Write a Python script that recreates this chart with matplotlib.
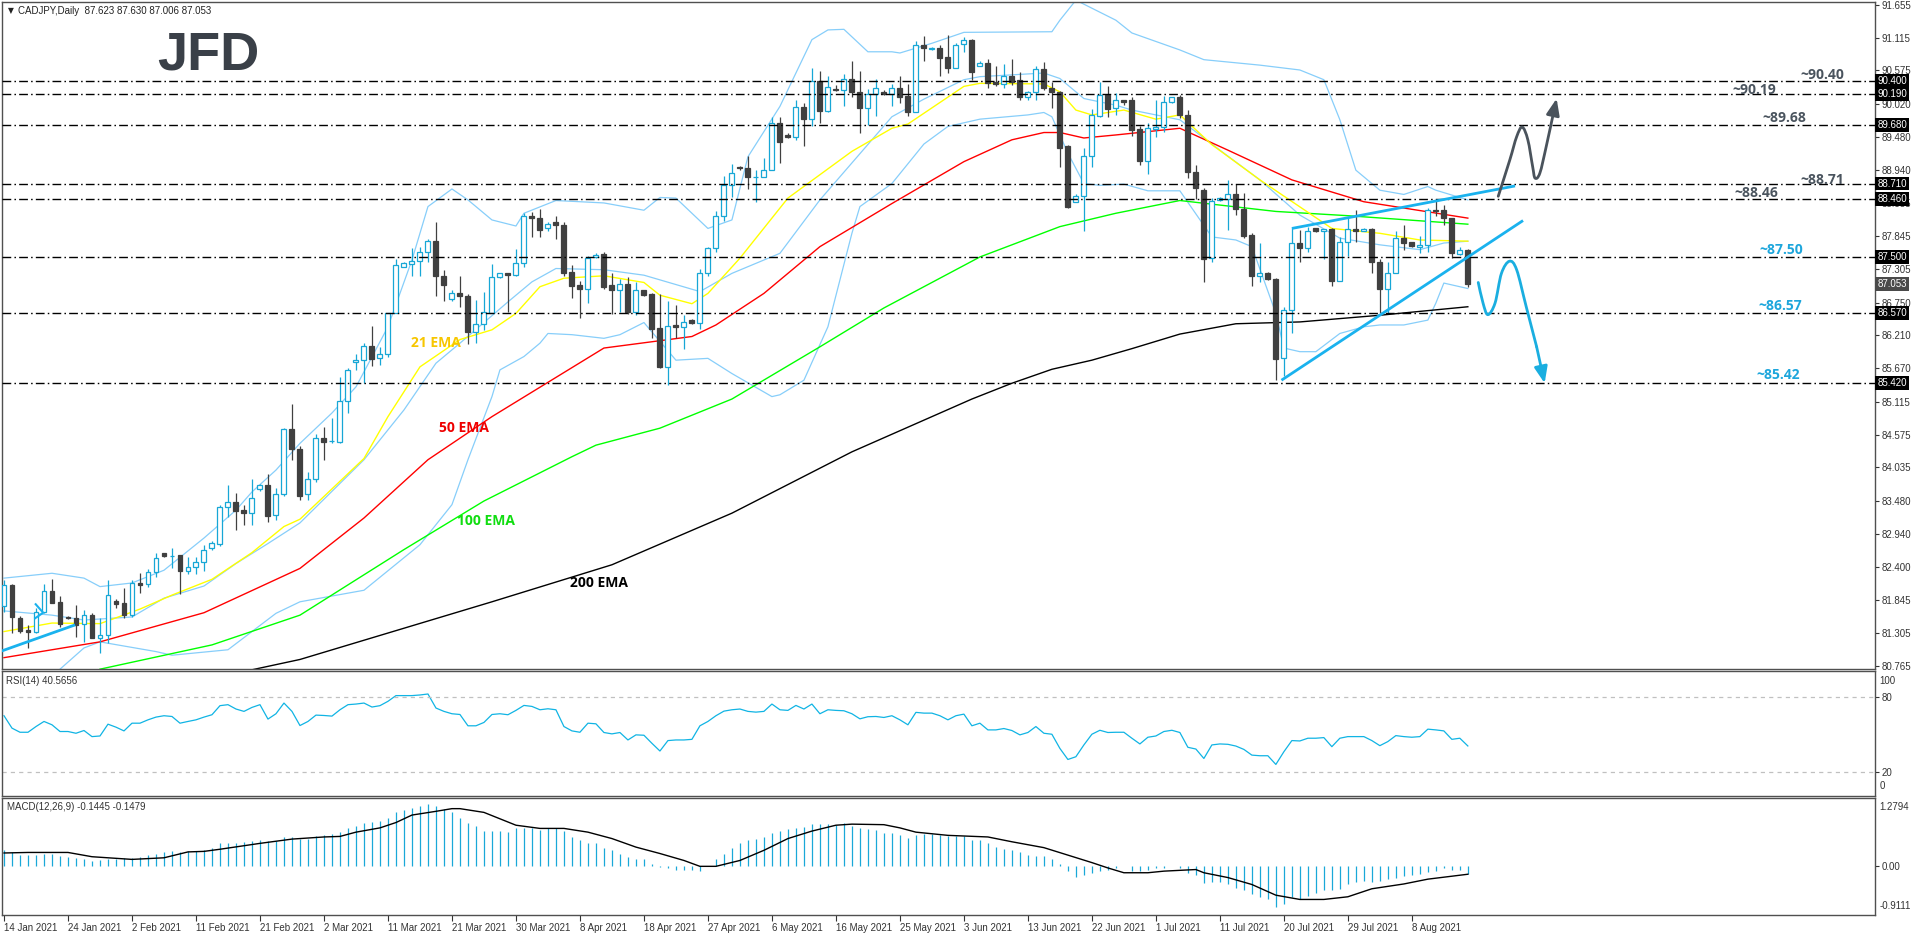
import matplotlib
matplotlib.use("Agg")
import matplotlib.pyplot as plt
import matplotlib.transforms as mtrans
from matplotlib.path import Path
from matplotlib.patches import PathPatch, FancyArrowPatch
import numpy as np

plt.rcParams['lines.scale_dashes'] = False
plt.rcParams['font.family'] = ['Liberation Sans', 'DejaVu Sans']

# ---------------- data ----------------
open_ = np.array([
    81.75, 82.10, 81.55, 81.36, 81.33, 81.66, 82.00, 81.81, 81.57, 81.55,
    81.45, 81.61, 81.23, 81.28, 81.84, 81.80, 81.60, 82.13, 82.11, 82.31,
    82.62, 82.58, 82.59, 82.33, 82.39, 82.47, 82.70, 82.78, 83.38, 83.46,
    83.34, 83.29, 83.67, 83.74, 83.25, 83.59, 84.67, 84.33, 83.60, 83.85,
    84.51, 84.47, 84.46, 85.12, 85.77, 85.80, 86.03, 85.83, 85.90, 86.58,
    87.33, 87.39, 87.43, 87.58, 87.76, 87.19, 86.81, 86.90, 86.86, 86.27,
    86.39, 86.58, 87.17, 87.24, 87.21, 87.40, 88.18, 88.14, 87.97, 88.07,
    88.03, 87.25, 87.04, 86.98, 87.50, 87.55, 87.04, 86.95, 87.05, 86.60,
    86.95, 86.89, 86.33, 85.69, 86.38, 86.34, 86.46, 86.41, 87.23, 87.64,
    88.18, 88.69, 88.98, 88.96, 88.81, 88.82, 88.94, 89.70, 89.51, 89.48,
    89.97, 89.78, 90.40, 89.91, 90.26, 90.25, 90.43, 90.21, 89.95, 90.18,
    90.21, 90.19, 90.28, 90.15, 89.89, 90.99, 90.92, 90.94, 90.79, 90.62,
    91.01, 91.08, 90.65, 90.70, 90.38, 90.35, 90.48, 90.42, 90.14, 90.21,
    90.59, 90.28, 90.22, 89.32, 88.41, 88.51, 89.17, 89.83, 90.17, 89.95,
    90.09, 90.08, 89.61, 89.08, 89.61, 89.64, 90.05, 90.13, 89.84, 88.90,
    88.60, 87.48, 88.44, 88.46, 88.54, 88.29, 87.86, 87.18, 87.24, 87.14,
    85.83, 86.62, 87.73, 87.64, 87.97, 87.93, 87.96, 87.11, 87.74, 87.96,
    87.93, 87.96, 87.42, 86.97, 87.24, 87.82, 87.74, 87.67, 87.70, 88.27,
    88.27, 88.14, 87.55, 87.623])
high = np.array([
    82.18, 82.11, 81.59, 81.44, 81.72, 82.11, 82.20, 81.92, 81.59, 81.76,
    81.69, 81.63, 81.55, 82.18, 81.86, 82.05, 82.18, 82.29, 82.36, 82.62,
    82.63, 82.70, 82.59, 82.55, 82.55, 82.76, 82.82, 83.42, 83.74, 83.61,
    83.42, 83.84, 83.76, 83.92, 83.69, 84.68, 85.08, 84.39, 83.95, 84.58,
    84.70, 84.84, 85.52, 85.67, 85.90, 86.09, 86.36, 86.02, 86.58, 87.47,
    87.42, 87.64, 87.67, 87.79, 88.07, 87.29, 86.96, 87.19, 86.89, 86.79,
    86.92, 87.39, 87.24, 87.24, 87.63, 88.23, 88.24, 88.29, 88.07, 88.18,
    88.08, 87.37, 87.11, 87.51, 87.56, 87.58, 87.23, 87.13, 87.17, 87.09,
    86.96, 86.90, 86.89, 86.77, 86.71, 86.55, 86.48, 87.31, 87.67, 88.26,
    88.83, 89.03, 89.00, 89.16, 88.93, 89.13, 89.80, 89.80, 89.54, 90.09,
    90.03, 90.61, 90.57, 90.48, 90.33, 90.52, 90.72, 90.57, 90.26, 90.43,
    90.25, 90.35, 90.48, 90.35, 91.05, 91.14, 90.96, 90.99, 91.16, 91.03,
    91.12, 91.09, 90.72, 90.76, 90.65, 90.68, 90.76, 90.55, 90.24, 90.65,
    90.71, 90.39, 90.24, 89.35, 88.54, 89.29, 89.93, 90.39, 90.31, 90.20,
    90.09, 90.14, 89.65, 89.70, 90.09, 90.15, 90.14, 90.17, 89.92, 89.02,
    88.64, 88.47, 88.49, 88.77, 88.71, 88.55, 87.89, 87.73, 87.25, 87.16,
    86.67, 87.97, 87.94, 88.00, 87.98, 87.96, 87.97, 87.83, 88.15, 88.28,
    87.97, 87.97, 87.46, 87.41, 87.92, 88.03, 87.75, 87.85, 88.30, 88.43,
    88.36, 88.15, 87.67, 87.63])
low = np.array([
    81.65, 81.30, 81.31, 81.06, 81.31, 81.63, 81.80, 81.41, 81.54, 81.24,
    81.15, 81.22, 80.97, 81.14, 81.71, 81.55, 81.57, 81.97, 82.07, 82.23,
    82.55, 82.38, 81.95, 82.27, 82.27, 82.32, 82.67, 82.74, 83.21, 83.01,
    83.09, 83.09, 83.64, 83.14, 83.17, 83.57, 84.16, 83.50, 83.50, 83.80,
    84.16, 84.43, 84.43, 84.93, 85.64, 85.43, 85.71, 85.72, 85.86, 86.57,
    87.33, 87.19, 87.19, 87.41, 86.86, 86.78, 86.78, 86.68, 86.06, 86.08,
    86.30, 86.57, 87.15, 86.60, 87.18, 87.34, 87.83, 87.83, 87.93, 87.79,
    87.18, 86.83, 86.49, 86.74, 87.48, 86.97, 86.56, 86.60, 86.56, 86.54,
    86.86, 86.16, 85.67, 85.39, 86.16, 85.98, 86.40, 86.31, 87.18, 87.59,
    88.10, 88.49, 88.93, 88.62, 88.40, 88.81, 88.93, 89.04, 89.46, 89.43,
    89.33, 89.66, 89.70, 89.88, 90.24, 89.98, 90.13, 89.55, 89.68, 89.83,
    90.16, 89.98, 90.04, 89.82, 89.88, 90.72, 90.91, 90.48, 90.53, 90.61,
    90.87, 90.42, 90.64, 90.29, 90.31, 90.29, 90.33, 90.09, 90.09, 90.08,
    90.25, 89.95, 88.99, 88.31, 88.41, 87.93, 88.99, 89.81, 89.80, 89.84,
    90.00, 89.50, 89.02, 88.87, 89.47, 89.56, 90.04, 89.79, 88.80, 88.46,
    87.08, 87.42, 88.43, 87.94, 88.19, 87.81, 87.02, 87.09, 87.12, 85.47,
    85.54, 86.24, 87.41, 87.59, 87.91, 87.47, 87.02, 87.11, 87.52, 87.75,
    87.92, 87.24, 86.57, 86.58, 87.23, 87.62, 87.66, 87.57, 87.59, 88.18,
    88.03, 87.48, 87.53, 87.006])
close_ = np.array([
    82.09, 81.57, 81.34, 81.32, 81.66, 81.99, 81.80, 81.45, 81.55, 81.44,
    81.61, 81.23, 81.28, 81.94, 81.78, 81.60, 82.13, 82.10, 82.31, 82.54,
    82.58, 82.58, 82.33, 82.39, 82.47, 82.67, 82.79, 83.38, 83.46, 83.32,
    83.29, 83.53, 83.74, 83.24, 83.59, 84.67, 84.33, 83.57, 83.85, 84.51,
    84.46, 84.47, 85.13, 85.64, 85.80, 86.03, 85.82, 85.90, 86.57, 87.36,
    87.40, 87.43, 87.58, 87.76, 87.18, 87.04, 86.90, 86.85, 86.27, 86.39,
    86.59, 87.17, 87.23, 87.21, 87.40, 88.18, 88.14, 87.94, 88.05, 88.02,
    87.23, 87.03, 86.97, 87.49, 87.54, 87.01, 86.95, 87.05, 86.60, 86.95,
    86.87, 86.31, 85.69, 86.37, 86.34, 86.43, 86.41, 87.23, 87.64, 88.18,
    88.69, 88.88, 88.96, 88.81, 88.82, 88.94, 89.70, 89.40, 89.48, 89.97,
    89.78, 90.40, 89.91, 90.30, 90.25, 90.43, 90.21, 89.95, 90.18, 90.28,
    90.18, 90.28, 90.14, 89.89, 90.99, 90.94, 90.95, 90.78, 90.62, 90.99,
    91.08, 90.54, 90.69, 90.36, 90.35, 90.48, 90.39, 90.13, 90.21, 90.59,
    90.28, 90.21, 89.30, 88.33, 88.51, 89.16, 89.84, 90.17, 89.94, 90.08,
    90.06, 89.59, 89.08, 89.62, 89.64, 90.05, 90.13, 89.84, 88.90, 88.64,
    87.47, 88.43, 88.47, 88.54, 88.29, 87.85, 87.18, 87.23, 87.13, 85.82,
    86.62, 87.73, 87.65, 87.93, 87.92, 87.96, 87.11, 87.74, 87.96, 87.93,
    87.96, 87.41, 86.97, 87.24, 87.82, 87.73, 87.68, 87.70, 88.27, 88.26,
    88.14, 87.56, 87.62, 87.053])

ema21_i = [0, 6, 12, 17, 21, 26, 31, 35, 37, 45, 48, 52, 57, 61, 64, 67, 70, 75, 80, 82,
           86, 88, 92, 98, 106, 111, 113, 120, 122, 130, 132, 134, 136, 140, 144, 147, 151, 157, 166, 172,
           177, 183]
ema21_v = [81.33, 81.47, 81.46, 81.70, 81.93, 82.19, 82.63, 83.06, 83.18, 84.18, 84.87, 85.69, 86.14, 86.30, 86.57, 87.01, 87.15, 87.19, 87.08, 86.87,
           86.73, 86.90, 87.48, 88.47, 89.24, 89.62, 89.69, 90.31, 90.36, 90.35, 90.22, 89.92, 89.84, 89.92, 89.77, 89.84, 89.35, 88.77, 87.97, 87.89,
           87.78, 87.76]
ema50_i = [0, 12, 25, 37, 45, 53, 61, 75, 86, 89, 95, 102, 111, 120, 126, 130, 132, 135, 139, 147, 153, 161, 170, 183]
ema50_v = [80.90, 81.16, 81.64, 82.37, 83.20, 84.16, 84.87, 86.00, 86.19, 86.38, 86.90, 87.67, 88.38, 89.07, 89.43, 89.55, 89.55, 89.46, 89.51, 89.62, 89.26, 88.77, 88.41, 88.14]
ema100_i = [12, 26, 37, 50, 60, 71, 74, 82, 91, 102, 110, 122, 132, 139, 147, 159, 168, 183]
ema100_v = [80.71, 81.11, 81.60, 82.68, 83.48, 84.21, 84.40, 84.68, 85.16, 86.02, 86.66, 87.50, 88.00, 88.22, 88.43, 88.25, 88.18, 88.04]
ema200_i = [31, 37, 61, 76, 91, 106, 121, 126, 131, 136, 141, 147, 154, 162, 172, 183]
ema200_v = [80.70, 80.87, 81.82, 82.43, 83.28, 84.29, 85.16, 85.42, 85.65, 85.80, 85.99, 86.23, 86.40, 86.43, 86.54, 86.68]

bb_up_i = [0, 6, 10, 12, 16, 20, 25, 29, 31, 34, 37, 41, 44, 48, 51, 53, 56, 58, 61, 64,
           65, 69, 75, 80, 82, 84, 88, 91, 93, 97, 101, 103, 105, 108, 111, 112, 116, 120, 131, 132,
           134, 139, 141, 147, 150, 157, 162, 165, 167, 169, 172, 175, 178, 179, 183]
bb_up_v = [82.21, 82.29, 82.21, 82.07, 82.13, 82.34, 82.87, 83.33, 83.63, 83.99, 84.43, 84.93, 85.36, 86.35, 87.45, 88.33, 88.62, 88.44, 88.11, 88.01,
           88.22, 88.43, 88.39, 88.27, 88.48, 88.47, 87.97, 88.11, 89.15, 89.98, 91.08, 91.24, 91.25, 90.88, 90.88, 90.86, 91.02, 91.20, 91.21, 91.40,
           91.73, 91.40, 91.19, 90.91, 90.75, 90.66, 90.58, 90.42, 89.76, 88.93, 88.60, 88.53, 88.66, 88.60, 88.44]
bb_mid_i = [0, 6, 10, 16, 20, 25, 29, 33, 37, 45, 50, 54, 57, 63, 66, 69, 75, 80, 87, 91,
            97, 102, 111, 115, 120, 122, 130, 132, 135, 139, 141, 147, 152, 157, 162, 167, 172, 177, 180, 183]
bb_mid_v = [81.67, 81.60, 81.52, 81.57, 81.88, 82.08, 82.45, 82.78, 83.12, 84.16, 84.98, 85.75, 86.08, 86.76, 87.09, 87.31, 87.29, 87.20, 86.93, 87.23,
            87.56, 88.44, 89.81, 90.10, 90.42, 90.47, 90.53, 90.44, 90.11, 90.00, 89.92, 89.76, 89.26, 88.77, 88.19, 87.81, 87.70, 87.62, 87.73, 87.76]
bb_lo_i = [7, 10, 12, 19, 21, 28, 31, 34, 37, 45, 52, 56, 58, 61, 62, 65, 67, 68, 71, 75,
           77, 80, 84, 88, 91, 96, 97, 100, 103, 106, 107, 111, 115, 118, 122, 128, 130, 131, 133, 135,
           137, 140, 143, 147, 151, 154, 156, 159, 160, 162, 164, 167, 170, 172, 175, 178, 179, 180, 183]
bb_lo_v = [80.71, 81.06, 81.16, 81.00, 80.94, 81.03, 81.33, 81.63, 81.82, 82.01, 82.76, 83.42, 84.16, 85.20, 85.64, 85.86, 86.08, 86.24, 86.22, 86.16,
           86.22, 86.42, 85.80, 85.83, 85.58, 85.20, 85.23, 85.47, 86.35, 87.89, 88.33, 88.71, 89.36, 89.65, 89.77, 89.84, 89.88, 89.81, 89.21, 88.71,
           88.68, 88.70, 88.59, 88.59, 87.83, 87.78, 87.67, 86.57, 86.00, 85.94, 85.94, 86.24, 86.35, 86.38, 86.38, 86.46, 86.74, 87.07, 86.98]

rsi = np.array([
    64.9, 54.9, 51.6, 51.6, 56.2, 60.3, 57.6, 52.2, 52.2, 50.8,
    53.0, 48.1, 48.6, 58.1, 55.7, 52.7, 58.9, 58.9, 61.6, 63.8,
    64.9, 64.3, 58.9, 60.3, 61.6, 63.8, 65.7, 73.0, 73.8, 70.3,
    68.4, 71.6, 73.8, 62.2, 66.5, 75.1, 68.4, 57.0, 60.3, 65.4,
    65.1, 64.6, 69.7, 73.8, 74.3, 75.1, 71.9, 73.0, 76.5, 81.1,
    81.1, 81.1, 81.6, 82.4, 71.1, 68.4, 66.5, 65.9, 56.8, 56.8,
    59.5, 65.9, 66.5, 65.7, 69.2, 73.2, 72.4, 69.7, 70.5, 69.7,
    56.2, 52.7, 51.6, 58.9, 58.4, 51.4, 50.3, 51.4, 45.4, 49.5,
    49.2, 42.7, 36.5, 44.9, 45.4, 45.4, 45.9, 56.8, 60.3, 64.9,
    68.6, 69.7, 70.3, 68.4, 67.8, 68.4, 74.3, 69.7, 69.2, 73.2,
    70.3, 74.3, 66.5, 69.7, 69.2, 68.9, 66.5, 62.4, 64.1, 64.3,
    63.5, 64.9, 61.6, 57.6, 67.6, 67.0, 67.0, 64.9, 61.6, 64.9,
    66.2, 56.8, 58.9, 53.5, 53.5, 54.6, 53.0, 49.5, 51.4, 56.2,
    50.8, 50.0, 38.6, 29.7, 31.9, 41.4, 50.0, 53.2, 51.4, 51.6,
    51.6, 46.8, 42.2, 47.6, 48.6, 52.2, 53.2, 51.4, 39.5, 38.1,
    30.5, 41.4, 42.2, 41.9, 40.5, 37.8, 33.2, 32.7, 32.7, 25.7,
    35.9, 44.9, 44.6, 46.8, 46.8, 47.3, 40.0, 46.8, 48.1, 48.1,
    48.1, 44.9, 40.8, 44.1, 48.9, 48.1, 47.6, 48.1, 54.1, 53.5,
    52.7, 45.9, 46.8, 40.57])

macd_hist = np.array([
    0.30, 0.27, 0.21, 0.21, 0.22, 0.24, 0.24, 0.19, 0.18, 0.16,
    0.14, 0.10, 0.11, 0.13, 0.14, 0.16, 0.16, 0.18, 0.21, 0.24,
    0.27, 0.29, 0.27, 0.28, 0.29, 0.31, 0.34, 0.43, 0.44, 0.44,
    0.46, 0.47, 0.49, 0.47, 0.48, 0.55, 0.55, 0.52, 0.52, 0.56,
    0.58, 0.61, 0.64, 0.71, 0.76, 0.82, 0.83, 0.84, 0.91, 1.01,
    1.06, 1.10, 1.13, 1.16, 1.13, 1.08, 1.01, 0.91, 0.82, 0.75,
    0.67, 0.66, 0.66, 0.64, 0.72, 0.72, 0.71, 0.68, 0.72, 0.71,
    0.66, 0.54, 0.49, 0.43, 0.44, 0.34, 0.30, 0.24, 0.18, 0.14,
    0.13, 0.05, -0.01, -0.04, -0.07, -0.06, -0.07, -0.09, 0.00, 0.13,
    0.24, 0.35, 0.44, 0.49, 0.52, 0.55, 0.63, 0.66, 0.69, 0.72,
    0.74, 0.80, 0.80, 0.80, 0.78, 0.81, 0.75, 0.72, 0.69, 0.68,
    0.63, 0.63, 0.59, 0.53, 0.58, 0.60, 0.60, 0.59, 0.56, 0.56,
    0.56, 0.50, 0.49, 0.44, 0.36, 0.33, 0.30, 0.26, 0.22, 0.19,
    0.19, 0.14, 0.05, -0.08, -0.20, -0.17, -0.12, -0.09, -0.06, -0.04,
    0.01, -0.08, -0.09, -0.06, -0.04, -0.03, 0.00, -0.03, -0.12, -0.17,
    -0.31, -0.29, -0.29, -0.34, -0.40, -0.45, -0.51, -0.58, -0.61, -0.76,
    -0.70, -0.58, -0.62, -0.56, -0.49, -0.45, -0.45, -0.42, -0.33, -0.29,
    -0.28, -0.29, -0.28, -0.24, -0.21, -0.18, -0.17, -0.15, -0.11, -0.08,
    -0.04, -0.06, -0.06, -0.1445])
sig_i = [0, 3, 8, 11, 16, 20, 23, 25, 27, 32, 36, 40, 42, 44, 47, 49, 51, 54, 56, 57,
         60, 62, 64, 67, 70, 73, 76, 79, 82, 85, 87, 89, 92, 95, 98, 101, 104, 106, 110, 112,
         114, 118, 123, 126, 130, 133, 136, 138, 140, 143, 145, 149, 150, 153, 156, 159, 162, 165, 168, 171,
         175, 178, 183]
sig_v = [0.25, 0.26, 0.26, 0.18, 0.13, 0.16, 0.27, 0.28, 0.32, 0.43, 0.51, 0.55, 0.56, 0.64, 0.72, 0.82, 0.96, 1.03, 1.08, 1.08,
         1.01, 0.89, 0.77, 0.71, 0.71, 0.64, 0.52, 0.36, 0.24, 0.11, 0.0, 0.0, 0.11, 0.30, 0.52, 0.66, 0.77, 0.79, 0.78, 0.72,
         0.64, 0.58, 0.55, 0.46, 0.35, 0.21, 0.07, -0.03, -0.12, -0.12, -0.09, -0.06, -0.12, -0.21, -0.34, -0.54, -0.62, -0.62, -0.57, -0.42,
         -0.33, -0.24, -0.148]

date_labels = ['14 Jan 2021', '24 Jan 2021', '2 Feb 2021', '11 Feb 2021', '21 Feb 2021', '2 Mar 2021',
               '11 Mar 2021', '21 Mar 2021', '30 Mar 2021', '8 Apr 2021', '18 Apr 2021', '27 Apr 2021',
               '6 May 2021', '16 May 2021', '25 May 2021', '3 Jun 2021', '13 Jun 2021', '22 Jun 2021',
               '1 Jul 2021', '11 Jul 2021', '20 Jul 2021', '29 Jul 2021', '8 Aug 2021']
price_ticks = [91.655, 91.115, 90.575, 90.020, 89.480, 88.940, 88.385, 87.845, 87.305, 86.750, 86.210,
               85.670, 85.115, 84.575, 84.035, 83.480, 82.940, 82.400, 81.845, 81.305, 80.765]
levels = [90.40, 90.19, 89.68, 88.71, 88.46, 87.50, 86.57, 85.42]
level_text = ['~90.40', '~90.19', '~89.68', '~88.71', '~88.46', '~87.50', '~86.57', '~85.42']
last_price = 87.053

# trend lines / scenario paths (bar index, price)
tl_lower = ([159.7, 189.9], [85.47, 88.10])
tl_upper = ([161.0, 188.9], [87.97, 88.67])
tl_left = ([-0.5, 8.9], [81.00, 81.44])
bull_path = [(186.8, 88.50), (188.25, 89.10), (189.1, 89.48), (189.8, 89.64), (190.5, 89.43),
             (191.1, 88.99), (191.4, 88.80), (192.0, 88.88), (192.8, 89.32), (193.7, 89.87), (194.1, 90.11)]
bear_path = [(184.3, 87.08), (184.9, 86.74), (185.5, 86.55), (186.4, 86.74), (187.2, 87.23),
             (188.2, 87.43), (189.1, 87.29), (190.3, 86.68), (191.6, 86.02), (192.6, 85.42)]

# ---------------- figure ----------------
W, H = 1916, 936
fig = plt.figure(figsize=(W / 100, H / 100), dpi=100, facecolor='white')


def rect(x0, y0, x1, y1):
    return [x0 / W, 1 - y1 / H, (x1 - x0) / W, (y1 - y0) / H]


ax = fig.add_axes(rect(2, 2, 1875, 669))
ax_r = fig.add_axes(rect(2, 671, 1875, 796))
ax_m = fig.add_axes(rect(2, 798, 1875, 915))

XLIM = (-0.25, 233.9)
CYAN = '#17a7d6'
DARK = '#404040'
TXT = '#333333'
FRAME = '#505050'

for a in (ax, ax_r, ax_m):
    a.set_xlim(*XLIM)
    a.set_facecolor('white')
    for s in a.spines.values():
        s.set_color(FRAME)
        s.set_linewidth(1.0)
    a.yaxis.tick_right()
    a.tick_params(axis='y', length=3, width=0.8, color=TXT, labelsize=7, labelcolor=TXT, pad=2)

x = np.arange(len(close_))
up = close_ >= open_

# indicator lines
ax.plot(bb_up_i, bb_up_v, color='#87cefa', lw=0.9, zorder=2)
ax.plot(bb_mid_i, bb_mid_v, color='#87cefa', lw=0.9, zorder=2)
ax.plot(bb_lo_i, bb_lo_v, color='#87cefa', lw=0.9, zorder=2)
ax.plot(ema200_i, ema200_v, color='black', lw=1.0, zorder=2)
ax.plot(ema100_i, ema100_v, color='#00ff00', lw=1.0, zorder=2)
ax.plot(ema50_i, ema50_v, color='#ff0000', lw=1.0, zorder=2)
ax.plot(ema21_i, ema21_v, color='#ffff00', lw=1.0, zorder=2)

# candles
ax.vlines(x[up], low[up], high[up], color=CYAN, lw=0.9, zorder=4)
ax.vlines(x[~up], low[~up], high[~up], color=DARK, lw=0.9, zorder=4)
ax.bar(x[up], (close_ - open_)[up], bottom=open_[up], width=0.62,
       facecolor='white', edgecolor=CYAN, lw=0.9, zorder=5)
ax.bar(x[~up], (close_ - open_)[~up], bottom=open_[~up], width=0.62,
       facecolor=DARK, edgecolor=DARK, lw=0.9, zorder=5)

# horizontal levels
for lv in levels:
    ax.axhline(lv, color='black', lw=1.0, ls=(0, (6.3, 2.3, 1.1, 2.3)), zorder=6)

lab_pos = [(230.1, 90.50), (221.6, 90.25), (225.25, 89.79), (230.1, 88.77),
           (221.75, 88.55), (224.9, 87.62), (224.75, 86.69), (224.5, 85.56)]
lab_col = ['#4a545e'] * 5 + ['#1da6dc'] * 3
for (bx, py), t, c in zip(lab_pos, level_text, lab_col):
    ax.text(bx, py, t, ha='right', va='center', fontsize=10, fontweight='bold',
            family=['Open Sans', 'DejaVu Sans'], color=c, zorder=7)

# EMA labels
ema_lab = [('21 EMA', 54.0, 86.08, '#f7c600'), ('50 EMA', 57.5, 84.68, '#ee0000'),
           ('100 EMA', 60.3, 83.15, '#11dd11'), ('200 EMA', 74.4, 82.13, 'black')]
for t, bx, py, c in ema_lab:
    ax.text(bx, py, t, ha='center', va='center', fontsize=10, fontweight='bold',
            family=['Open Sans', 'DejaVu Sans'], color=c, zorder=7)

# trend lines
TL = '#1ab2ee'
ax.plot(*tl_lower, color=TL, lw=2.0, zorder=8, solid_capstyle='butt')
ax.plot(*tl_upper, color=TL, lw=2.0, zorder=8, solid_capstyle='butt')
ax.plot(*tl_left, color=TL, lw=2.0, zorder=8, solid_capstyle='butt', clip_on=True)
ax.plot([3.96, 4.9, 3.9], [81.78, 81.64, 81.55], color=TL, lw=1.5, zorder=8)


def smooth(pts):
    pts = np.asarray(pts, float)
    P = np.vstack([pts[0], pts, pts[-1]])
    verts = [tuple(pts[0])]
    codes = [Path.MOVETO]
    for k in range(1, len(P) - 2):
        p0, p1, p2, p3 = P[k - 1], P[k], P[k + 1], P[k + 2]
        c1 = p1 + (p2 - p0) / 6.0
        c2 = p2 - (p3 - p1) / 6.0
        verts += [tuple(c1), tuple(c2), tuple(p2)]
        codes += [Path.CURVE4] * 3
    return Path(verts, codes)


for pts, col in ((bull_path, '#4a535c'), (bear_path, '#1aaee0')):
    ax.add_patch(PathPatch(smooth(pts[:-1]), fc='none', ec=col, lw=2.0, zorder=9,
                           clip_on=False, capstyle='round'))
    ax.add_patch(FancyArrowPatch(posA=pts[-2], posB=pts[-1],
                                 arrowstyle='-|>,head_length=0.55,head_width=0.22',
                                 mutation_scale=18, color=col, lw=2.0, shrinkA=0, shrinkB=0,
                                 zorder=9, clip_on=False))

ax.set_ylim(80.713, 91.70)
ax.set_yticks(price_ticks)
ax.set_yticklabels([f'{v:.3f}' for v in price_ticks])
ax.tick_params(axis='x', bottom=False, labelbottom=False)

trans = mtrans.blended_transform_factory(ax.transAxes, ax.transData)
for lv in levels:
    ax.text(1.0012, lv, f'{lv:.3f}', transform=trans, ha='left', va='center', fontsize=7,
            color='white', zorder=10, clip_on=False,
            bbox=dict(boxstyle='square,pad=0.2', fc='black', ec='none'))
ax.text(1.0012, last_price, f'{last_price:.3f}', transform=trans, ha='left', va='center', fontsize=7,
        color='white', zorder=10, clip_on=False,
        bbox=dict(boxstyle='square,pad=0.2', fc='#4a4a4a', ec='none'))

# ---------------- RSI ----------------
ax_r.plot(x, rsi, color='#10b4e4', lw=0.9)
for lv in (80, 20):
    ax_r.axhline(lv, color='#c0c0c0', lw=0.9, ls=(0, (3, 3)))
ax_r.set_ylim(0.3, 100.9)
ax_r.set_yticks([80, 20])
ax_r.set_yticklabels(['80', '20'])
ax_r.tick_params(axis='x', bottom=False, labelbottom=False)
ax_r.text(1.0025, 0.96, '100', transform=ax_r.transAxes, ha='left', va='top', fontsize=7, color=TXT)
ax_r.text(1.0025, 0.04, '0', transform=ax_r.transAxes, ha='left', va='bottom', fontsize=7, color=TXT)

# ---------------- MACD ----------------
ax_m.vlines(x, 0, macd_hist, color='#1aa8d8', lw=0.9)
ax_m.plot(sig_i, sig_v, color='black', lw=1.0)
ax_m.set_ylim(-0.9111, 1.2794)
ax_m.set_yticks([0.0])
ax_m.set_yticklabels(['0.00'])
ax_m.text(1.0025, 0.97, '1.2794', transform=ax_m.transAxes, ha='left', va='top', fontsize=7, color=TXT)
ax_m.text(1.0025, 0.03, '-0.9111', transform=ax_m.transAxes, ha='left', va='bottom', fontsize=7, color=TXT)
ax_m.set_xticks(np.arange(0, 8 * len(date_labels), 8))
ax_m.set_xticklabels(date_labels)
ax_m.tick_params(axis='x', length=4, width=0.8, color=TXT, labelsize=7, labelcolor=TXT, pad=2, direction='out')
for t in ax_m.get_xticklabels():
    t.set_ha('left')

# ---------------- texts ----------------
def ftext(px, py, s, **kw):
    fig.text(px / W, 1 - py / H, s, **kw)


ftext(8, 11, '\u25bc', fontsize=5.5, color='#222222', va='center', ha='left', family=['DejaVu Sans'])
ftext(18, 11, 'CADJPY,Daily  87.623 87.630 87.006 87.053', fontsize=7, color='#222222', va='center', ha='left')
ftext(6, 681, 'RSI(14) 40.5656', fontsize=7, color=TXT, va='center', ha='left')
ftext(7, 807, 'MACD(12,26,9) -0.1445 -0.1479', fontsize=7, color=TXT, va='center', ha='left')
ftext(157, 70, 'JFD', fontsize=39, fontweight='bold', color='#3a4048', va='baseline', ha='left',
      family=['Liberation Sans', 'DejaVu Sans'])

fig.savefig('out.png', dpi=100, facecolor='white')
